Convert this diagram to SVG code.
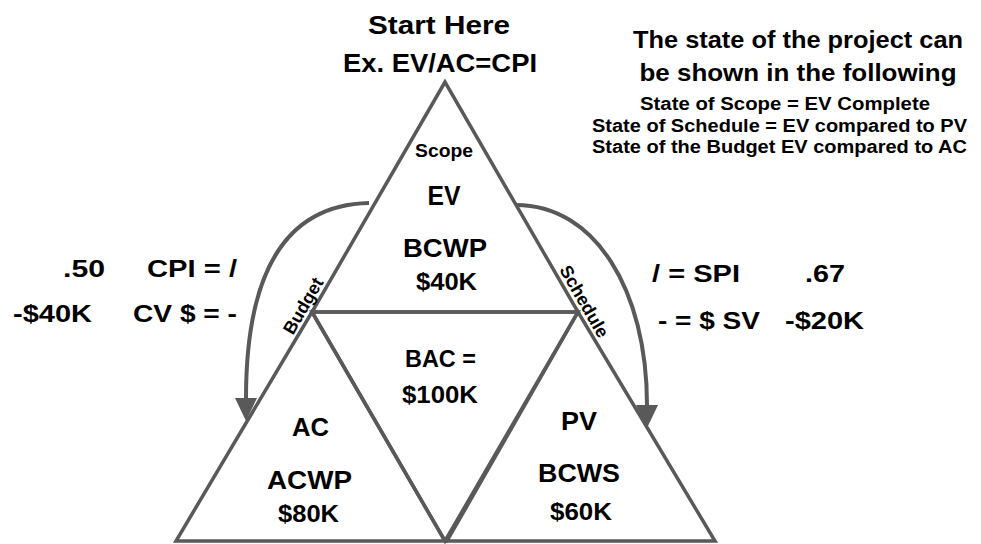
<svg xmlns="http://www.w3.org/2000/svg" width="981" height="544" viewBox="0 0 981 544">
<style>
  text { font-family: "Liberation Sans", Arial, sans-serif; font-weight: bold; fill: #000; }
  .tri { fill: none; stroke: #595959; stroke-width: 3.5; stroke-linejoin: miter; }
  .arc { fill: none; stroke: #595959; stroke-width: 4; }
  .m { text-anchor: middle; }
  .e { text-anchor: end; }
</style>
<defs>
  <marker id="ah" markerUnits="userSpaceOnUse" markerWidth="24" markerHeight="22" refX="0" refY="11" orient="auto" overflow="visible">
    <path d="M0,0 L23,11 L0,22 z" fill="#595959"/>
  </marker>
</defs>
<rect width="981" height="544" fill="#fff"/>

<g id="connectors">
  <path class="arc" d="M369,203 C275,205 246,290 246,398" marker-end="url(#ah)"/>
  <path class="arc" d="M516,205 C595,205 647,290 647,405" marker-end="url(#ah)"/>
</g>

<g id="scope-node">
  <polygon class="tri" points="445,82 312,312 578,312"/>
  <text class="m" x="444" y="157" font-size="18.5" textLength="58" lengthAdjust="spacingAndGlyphs">Scope</text>
  <text class="m" x="444" y="205" font-size="27.5" textLength="33" lengthAdjust="spacingAndGlyphs">EV</text>
  <text class="m" x="445" y="257" font-size="26.5" textLength="84" lengthAdjust="spacingAndGlyphs">BCWP</text>
  <text class="m" x="446.5" y="290" font-size="23.5" textLength="61" lengthAdjust="spacingAndGlyphs">$40K</text>
</g>

<g id="bac-node">
  <polygon class="tri" points="312,312 578,312 445,541"/>
  <text class="m" x="440.5" y="367" font-size="23.5" textLength="71" lengthAdjust="spacingAndGlyphs">BAC =</text>
  <text class="m" x="440" y="403" font-size="23.5" textLength="76" lengthAdjust="spacingAndGlyphs">$100K</text>
</g>

<g id="ac-node">
  <polygon class="tri" points="312,312 176,541 445,541"/>
  <text class="m" x="310.5" y="436" font-size="26.5" textLength="37" lengthAdjust="spacingAndGlyphs">AC</text>
  <text class="m" x="309.5" y="489" font-size="26.5" textLength="85" lengthAdjust="spacingAndGlyphs">ACWP</text>
  <text class="m" x="308.5" y="522" font-size="23.5" textLength="61" lengthAdjust="spacingAndGlyphs">$80K</text>
</g>

<g id="pv-node">
  <polygon class="tri" points="578,312 447,541 715,541"/>
  <text class="m" x="579" y="430" font-size="26.5" textLength="36" lengthAdjust="spacingAndGlyphs">PV</text>
  <text class="m" x="579" y="482" font-size="26.5" textLength="82" lengthAdjust="spacingAndGlyphs">BCWS</text>
  <text class="m" x="581" y="520" font-size="23.5" textLength="62" lengthAdjust="spacingAndGlyphs">$60K</text>
</g>

<g id="edge-labels">
  <text class="m" font-size="18" transform="translate(308.5,309) rotate(-60)">Budget</text>
  <text class="m" font-size="18" transform="translate(579,304.5) rotate(60)">Schedule</text>
</g>

<g id="title">
  <text class="m" x="439" y="34" font-size="26.5" textLength="142" lengthAdjust="spacingAndGlyphs">Start Here</text>
  <text class="m" x="440" y="72" font-size="26.5" textLength="194" lengthAdjust="spacingAndGlyphs">Ex. EV/AC=CPI</text>
</g>

<g id="state-notes">
  <text class="m" x="798" y="48" font-size="24" textLength="330" lengthAdjust="spacingAndGlyphs">The state of the project can</text>
  <text class="m" x="798" y="81" font-size="24" textLength="317" lengthAdjust="spacingAndGlyphs">be shown in the following</text>
  <text class="m" x="785" y="110" font-size="18" textLength="290" lengthAdjust="spacingAndGlyphs">State of Scope = EV Complete</text>
  <text class="m" x="779.5" y="132" font-size="18" textLength="375" lengthAdjust="spacingAndGlyphs">State of Schedule = EV compared to PV</text>
  <text class="m" x="779.5" y="153" font-size="18" textLength="375" lengthAdjust="spacingAndGlyphs">State of the Budget EV compared to AC</text>
</g>

<g id="cpi-labels">
  <text x="63" y="277" font-size="24.5" textLength="42" lengthAdjust="spacingAndGlyphs">.50</text>
  <text x="147" y="277" font-size="24.5" textLength="90" lengthAdjust="spacingAndGlyphs">CPI = /</text>
  <text x="13" y="322" font-size="24.5" textLength="79" lengthAdjust="spacingAndGlyphs">-$40K</text>
  <text x="133" y="322" font-size="24.5" textLength="104" lengthAdjust="spacingAndGlyphs">CV $ = -</text>
</g>

<g id="spi-labels">
  <text x="652" y="282" font-size="24.5" textLength="88" lengthAdjust="spacingAndGlyphs">/ = SPI</text>
  <text x="805" y="282" font-size="24.5" textLength="40" lengthAdjust="spacingAndGlyphs">.67</text>
  <text x="658" y="329" font-size="24.5" textLength="102" lengthAdjust="spacingAndGlyphs">- = $ SV</text>
  <text x="785" y="329" font-size="24.5" textLength="79" lengthAdjust="spacingAndGlyphs">-$20K</text>
</g>
</svg>
